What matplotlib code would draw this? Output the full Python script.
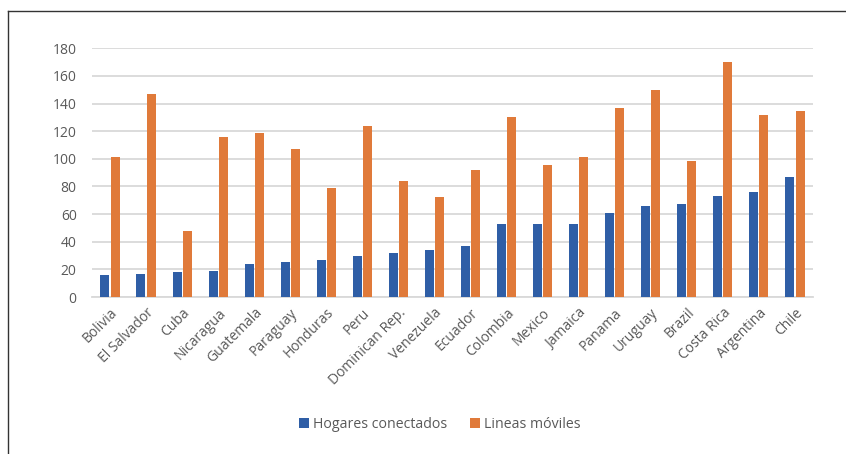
import numpy as np
import matplotlib.pyplot as plt
from matplotlib.lines import Line2D

paises = ['Bolivia', 'El Salvador', 'Cuba', 'Nicaragua', 'Guatemala', 'Paraguay',
          'Honduras', 'Peru', 'Dominican Rep.', 'Venezuela', 'Ecuador', 'Colombia',
          'Mexico', 'Jamaica', 'Panama', 'Uruguay', 'Brazil', 'Costa Rica',
          'Argentina', 'Chile']
hogares = [16, 17, 18, 19, 24, 25, 26.5, 30, 32, 34, 37, 53,
           53, 53, 61, 66, 67, 73, 76, 87]
lineas = [101, 147, 47.5, 115.5, 118.5, 107, 79, 124, 84, 72, 92, 130,
          95.5, 101, 137, 150, 98.5, 170, 132, 134.5]

AZUL = '#2f5ea6'
NARANJA = '#e07a3a'
GRIS = '#595959'

plt.rcParams['font.family'] = ['Open Sans', 'DejaVu Sans']

fig = plt.figure(figsize=(8.46, 4.54), dpi=100)
ax = fig.add_axes([0.1087, 0.3458, 0.8523, 0.548])

x = np.arange(len(paises))
w = 0.25
ax.bar(x - 0.14, hogares, w, color=AZUL, label='Hogares conectados', zorder=3)
ax.bar(x + 0.14, lineas, w, color=NARANJA, label='Lineas móviles', zorder=3)

ax.set_xlim(-0.5, len(paises) - 0.5)
ax.set_ylim(0, 180)
ax.set_yticks(np.arange(0, 181, 20))
ax.yaxis.grid(True, color='#d9d9d9', linewidth=1.3, zorder=0)
ax.set_axisbelow(True)
for s in ['top', 'right', 'left']:
    ax.spines[s].set_visible(False)
ax.spines['bottom'].set_color('#d9d9d9')
ax.spines['bottom'].set_linewidth(1.3)
ax.tick_params(axis='both', length=0, colors=GRIS, labelsize=10)
ax.tick_params(axis='y', pad=11)
ax.set_xticks(x)
ax.set_xticklabels(paises, rotation=45, ha='right', rotation_mode='anchor')
ax.tick_params(axis='x', pad=6)

fig.legend(loc='center', bbox_to_anchor=(0.52, 0.066), ncol=2, frameon=False,
           fontsize=10.2, labelcolor=GRIS, handlelength=0.7, handleheight=0.7,
           handletextpad=0.3, columnspacing=1.6)

# marco exterior
fig.add_artist(Line2D([8 / 846, 8 / 846], [0, 1 - 11 / 454], color='#333333', lw=1))
fig.add_artist(Line2D([8 / 846, 1], [1 - 11 / 454, 1 - 11 / 454], color='#333333', lw=1))

fig.savefig('out.png', dpi=100)
